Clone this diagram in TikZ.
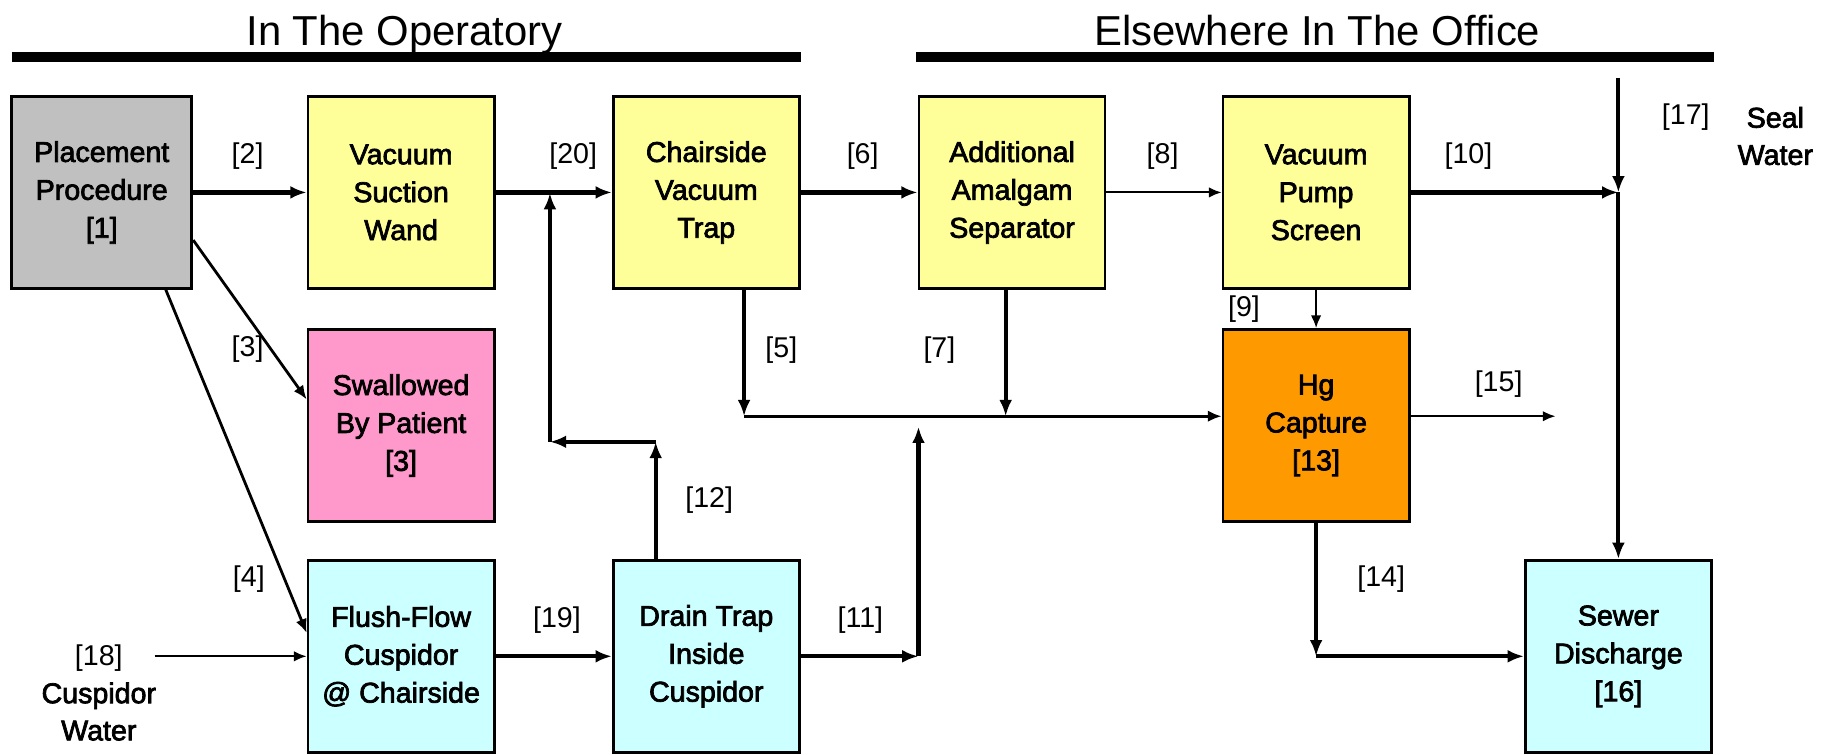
\documentclass[tikz,border=0pt]{standalone}
\usepackage{fontspec}
\setmainfont{Liberation Sans}[BoldFont={Liberation Sans},BoldFeatures={FakeBold=2.5}]
\usetikzlibrary{arrows.meta,calc}
\definecolor{cgray}{HTML}{C0C0C0}
\definecolor{cyel}{HTML}{FFFF99}
\definecolor{cpink}{HTML}{FF99CC}
\definecolor{corange}{HTML}{FF9900}
\definecolor{ccyan}{HTML}{CCFFFF}
\tikzset{
  box/.style={draw, line width=1.2pt, minimum width=80pt, minimum height=82.5pt, align=center,
    font=\fontsize{12.3}{16.3}\selectfont\bfseries, inner sep=0pt},
  lbl/.style={font=\fontsize{12.3}{16}\selectfont, inner sep=0pt, align=center},
  ttl/.style={font=\fontsize{18}{20}\selectfont, inner sep=0pt, anchor=base},
  thk/.style={line width=1.8pt, -{Latex[length=7pt,width=5.5pt]}},
  thn/.style={line width=0.9pt, -{Latex[length=5.5pt,width=4.5pt]}},
  med/.style={line width=1.2pt, -{Latex[length=6pt,width=5pt]}},
}
\begin{document}
\begin{tikzpicture}[x=0.5pt,y=-0.5pt]
\useasboundingbox (0,0) rectangle (1568,649);
\fill[white] (0,0) rectangle (1568,649);

% titles
\node[ttl] (t1) at (348,39) {In The Operatory};
\node[ttl] (t2) at (1133,39) {Elsewhere In The Office};
\draw[line width=4.3pt] (10,49) -- (689,49);
\draw[line width=4.3pt] (788,49) -- (1474,49);

% boxes
\node[box, fill=cgray, minimum width=77.5pt] (P) at (87.5,165.5) {Placement\\Procedure\\{[1]}};
\node[box, fill=cyel] (W) at (345,165.5) {Vacuum\\Suction\\Wand};
\node[box, fill=cyel] (C) at (607.5,165.5) {Chairside\\Vacuum\\Trap};
\node[box, fill=cyel] (A) at (870.5,165.5) {Additional\\Amalgam\\Separator};
\node[box, fill=cyel] (V) at (1132,165.5) {Vacuum\\Pump\\Screen};
\node[box, fill=cpink] (S) at (345,366) {Swallowed\\By Patient\\{[3]}};
\node[box, fill=corange] (H) at (1132,366) {Hg\\Capture\\{[13]}};
\node[box, fill=ccyan] (F) at (345,564.5) {Flush-Flow\\Cuspidor\\@ Chairside};
\node[box, fill=ccyan] (D) at (607.5,564.5) {Drain Trap\\Inside\\Cuspidor};
\node[box, fill=ccyan] (E) at (1392,564.5) {Sewer\\Discharge\\{[16]}};

% junction coordinates
\coordinate (J10) at (1392,165.5);
\coordinate (T17) at (1392,67);
\coordinate (J5) at (640,358);
\coordinate (J7) at (865,358);
\coordinate (K15) at (1338,358);
\coordinate (K11) at (790,564.5);
\coordinate (K11t) at (790,367);
\coordinate (K12a) at (564,380);
\coordinate (K12b) at (473,380);
\coordinate (K12c) at (473,166);
\coordinate (K18) at (133,564.5);

% connectors
\draw[thk] (P.east) -- (W.west);
\draw[thk] (W.east) -- (C.west);
\draw[thk] (C.east) -- (A.west);
\draw[thn] (A.east) -- (V.west);
\draw[thk] (V.east) -- (J10);
\draw[thk] (T17) -- (J10);
\draw[thk] (J10) -- (E.north);
\draw[thk] (C.south -| J5) -- (J5);
\draw[thk] (A.south -| J7) -- (J7);
\draw[med] (J5) -- (J5 -| H.west);
\draw[thn] (J5 -| H.east) -- (K15);
\draw[thk] (D.east) -- (K11);
\draw[thk] (K11) -- (K11t);
\draw[thk] (D.north -| K12a) -- (K12a);
\draw[thk] (K12a) -- (K12b);
\draw[thk] (K12b) -- (K12c);
\draw[thk] (F.east) -- (D.west);
\draw[thn] (K18) -- (F.west);
\draw[med] ($(P.north east)!0.745!(P.south east)$) -- ($(S.north west)!0.366!(S.south west)$);
\draw[med] ($(P.south west)!0.85!(P.south east)$) -- ($(F.north west)!0.38!(F.south west)$);
\draw[thn] (V.south) -- (H.north);
\draw[thk] (H.south) -- (H.south |- E.west);
\draw[thk] (H.south |- E.west) -- (E.west);

% labels
\node[lbl] (l2) at (213,134) {[2]};
\node[lbl] (l20) at (493,134) {[20]};
\node[lbl] (l6) at (742,134) {[6]};
\node[lbl] (l8) at (1000,134) {[8]};
\node[lbl] (l10) at (1263,134) {[10]};
\node[lbl] (l17) at (1450,101) {[17]};
\node[lbl, font=\fontsize{12.3}{16}\selectfont\bfseries] (lseal) at (1527,117) {Seal\\Water};
\node[lbl] (l3) at (213,300) {[3]};
\node[lbl] (l5) at (672,301) {[5]};
\node[lbl] (l7) at (808,301) {[7]};
\node[lbl] (l9) at (1070,266) {[9]};
\node[lbl] (l15) at (1289,330) {[15]};
\node[lbl] (l12) at (610,430) {[12]};
\node[lbl] (l4) at (214,498) {[4]};
\node[lbl] (l11) at (740,533) {[11]};
\node[lbl] (l19) at (479,533) {[19]};
\node[lbl] (l14) at (1188,498) {[14]};
\node[lbl, font=\fontsize{12.3}{16}\selectfont\bfseries] (l18) at (85,596) {{\mdseries [18]}\\Cuspidor\\Water};
\end{tikzpicture}
\end{document}
